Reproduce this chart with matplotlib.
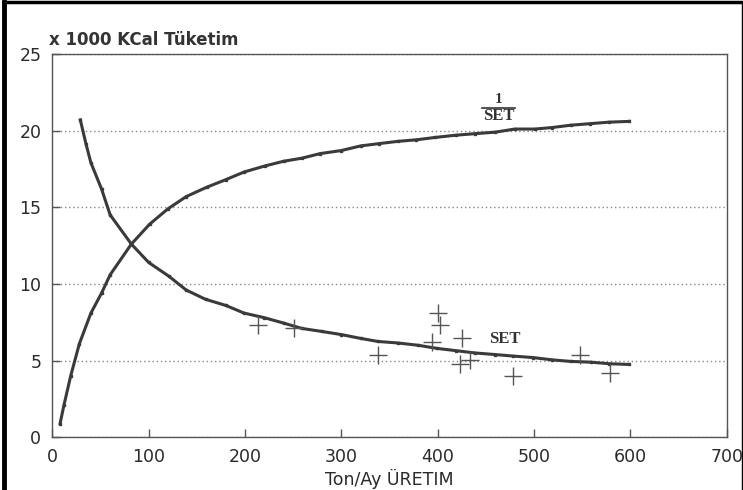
import numpy as np
import matplotlib.pyplot as plt
from matplotlib.lines import Line2D

# 1/SET curve
inv_x = [8, 12, 19, 28, 40, 51, 60, 82, 101, 120, 139, 160, 180, 199, 221, 240, 259, 278,
         300, 320, 339, 359, 378, 397, 419, 439, 460, 480, 501, 519, 538, 558, 578, 599]
inv_y = [0.9, 2.1, 4.0, 6.1, 8.1, 9.4, 10.6, 12.6, 13.9, 14.9, 15.7, 16.3, 16.8, 17.3, 17.7,
         18.0, 18.2, 18.5, 18.7, 19.0, 19.15, 19.3, 19.4, 19.55, 19.7, 19.8, 19.9, 20.1,
         20.1, 20.2, 20.35, 20.45, 20.55, 20.6]

# SET curve
set_x = [29, 35, 40, 51, 60, 82, 100, 121, 139, 159, 180, 199, 220, 240, 259, 280, 300,
         320, 338, 359, 380, 399, 419, 439, 459, 478, 499, 519, 538, 559, 578, 599]
set_y = [20.7, 19.1, 17.9, 16.2, 14.5, 12.6, 11.4, 10.5, 9.6, 9.0, 8.6, 8.1, 7.8, 7.45,
         7.1, 6.9, 6.7, 6.45, 6.25, 6.15, 6.0, 5.8, 5.65, 5.5, 5.4, 5.3, 5.2, 5.05, 4.95,
         4.9, 4.8, 4.75]

# measured points
obs_x = [213, 251, 338, 394, 400, 402, 425, 423, 434, 478, 548, 579]
obs_y = [7.35, 7.15, 5.4, 6.2, 8.1, 7.35, 6.45, 4.8, 5.05, 4.0, 5.4, 4.2]

xticks = [0, 100, 200, 300, 400, 500, 600, 700]
yticks = [0, 5, 10, 15, 20, 25]

ink = '#3a3a3a'
fig = plt.figure(figsize=(7.43, 4.9), dpi=100)
ax = fig.add_axes([0.0705, 0.1075, 0.9075, 0.7825])

ax.plot(inv_x, inv_y, color=ink, lw=2.2, marker='s', ms=1.8)
ax.plot(set_x, set_y, color=ink, lw=2.2, marker='s', ms=1.8)
ax.plot(obs_x, obs_y, ls='none', marker='+', ms=13, mew=1.0, color='#555555')

ax.set_xlim(0, 700)
ax.set_ylim(0, 25)
ax.set_xticks(xticks)
ax.set_yticks(yticks)
ax.tick_params(direction='in', length=6, width=1, color='#555555',
               labelsize=12.5, labelcolor='#2a2a2a', pad=8)
ax.yaxis.grid(True, ls=(0, (1, 2)), color='#888888', lw=1)
for s in ax.spines.values():
    s.set_color('#555555')
    s.set_linewidth(1)

# fraction label 1/SET
ax.text(463, 20.4, 'SET', ha='center', va='bottom', fontsize=12, fontweight='bold',
        family='Liberation Serif', color='#333333')
ax.plot([446, 480], [21.5, 21.5], color='#333333', lw=1.2)
ax.text(463, 21.6, '1', ha='center', va='bottom', fontsize=11, fontweight='bold',
        family='Liberation Serif', color='#333333')
ax.text(470, 5.9, 'SET', ha='center', va='bottom', fontsize=12, fontweight='bold',
        family='Liberation Serif', color='#333333')

ax.text(-3, 25.3, 'x 1000 KCal Tüketim', ha='left', va='bottom', fontsize=12,
        fontweight='bold', color='#333333')
ax.set_xlabel('Ton/Ay ÜRETIM', fontsize=12.5, color='#2a2a2a', labelpad=2)

# scan frame
fig.add_artist(Line2D([0.005, 0.005], [0, 0.995], transform=fig.transFigure, color='black', lw=3.5))
fig.add_artist(Line2D([0.005, 1], [0.995, 0.995], transform=fig.transFigure, color='black', lw=2.5))
fig.add_artist(Line2D([0.998, 0.998], [0, 0.995], transform=fig.transFigure, color='black', lw=1))

fig.savefig('out.png', dpi=100)
